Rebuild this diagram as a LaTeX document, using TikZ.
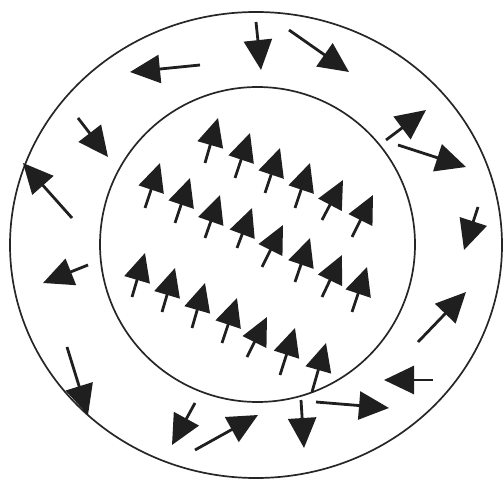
\documentclass[tikz,border=0pt]{standalone}
\usetikzlibrary{arrows.meta}
\begin{document}
\begin{tikzpicture}[x=1pt,y=-1pt,
  ring/.style={line width=1.7pt, draw=black!85},
  spin/.style={line width=2.8pt, draw=black!88, -{Triangle[length=28pt,width=26pt]}},
  flow/.style={line width=2.8pt, draw=black!88, -{Triangle[length=30pt,width=28pt]}}]
\useasboundingbox (0,0) rectangle (503,481);
% circles
\draw[ring] (256,245) ellipse [x radius=246, y radius=233];
\draw[ring] (257.5,244.5) circle [radius=157.5];
% inner aligned arrows
\foreach \ax/\ay/\bx/\by in {
  205/163/218/118, 235/178/250/133, 265/193/280/148, 295/208/310/163, 322/220/343/180, 352/237/373/195,
  145/208/160/163, 175/223/190/178, 205/238/220/195, 237/248/252/208, 262/267/283/225, 295/282/310/238, 322/297/342/255, 352/312/367/267,
  132/297/145/253, 162/312/175/268, 192/328/205/283, 222/343/237/298, 247/357/267/317, 280/375/295/328, 312/392/326/343}
  \draw[spin] (\ax,\ay) -- (\bx,\by);
% outer random arrows
\foreach \ax/\ay/\bx/\by in {
  200/65/130/72, 78/118/108/157, 72/218/23/163, 256/22/261/70, 289/30/349/72,
  386/140/426/110, 398/145/466/167, 478/207/464/250, 88/265/43/283, 67/347/88/415,
  195/403/172/445, 195/450/258/415, 418/342/466/292, 433/380/384/380, 316/402/389/408, 301/400/304/448}
  \draw[flow] (\ax,\ay) -- (\bx,\by);
\end{tikzpicture}
\end{document}
